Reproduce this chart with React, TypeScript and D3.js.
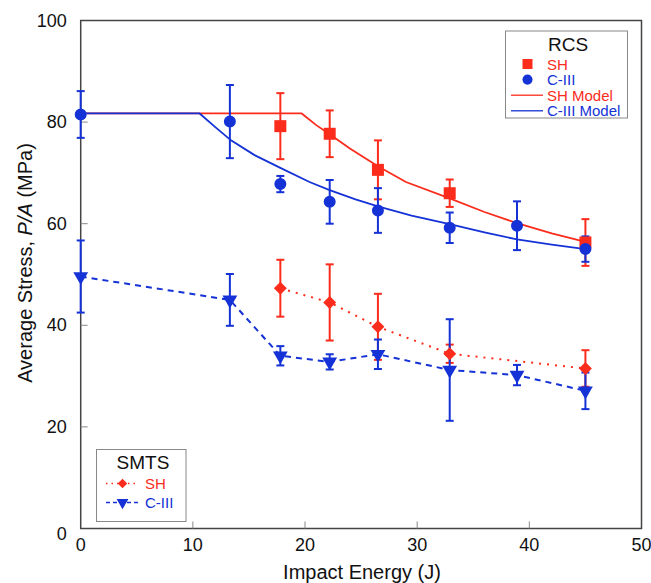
import React, { useEffect, useRef } from 'react';
import * as d3 from 'd3';

// RCS data (P/A in MPa vs impact energy in J)
const rcsShEnergy = [17.8, 22.2, 26.5, 32.9, 45.0];
const rcsShStress = [79.2, 77.7, 70.6, 66.0, 56.3];
const rcsShErr = [6.5, 4.6, 5.8, 2.7, 4.6];

const rcsC3Energy = [0, 13.3, 17.8, 22.2, 26.5, 32.9, 38.9, 45.0];
const rcsC3Stress = [81.5, 80.1, 67.8, 64.3, 62.6, 59.2, 59.6, 55.0];
const rcsC3Err = [4.6, 7.2, 1.6, 4.3, 4.4, 3.0, 4.8, 2.5];

// model curves
const shModelEnergy = [0, 19.7, 21, 22.2, 24, 26.5, 29, 32.9, 36, 38.9, 42, 45];
const shModelStress = [81.7, 81.7, 79.4, 77.6, 74.8, 71.3, 68.2, 65.0, 62.3, 60.1, 58.1, 56.4];
const c3ModelEnergy = [0, 10.6, 12, 13.4, 15.5, 17.8, 20.4, 22.2, 24.5, 26.5, 29.5, 32.9, 36, 38.9, 42, 45];
const c3ModelStress = [81.7, 81.7, 79.0, 76.4, 73.5, 71.0, 68.2, 66.6, 64.8, 63.4, 61.6, 59.9, 58.3, 56.9, 55.9, 55.0];

// SMTS data
const smtsShEnergy = [17.8, 22.2, 26.5, 32.9, 45.0];
const smtsShStress = [47.3, 44.5, 39.7, 34.4, 31.5];
const smtsShErr = [5.6, 7.5, 6.5, 1.8, 3.6];

const smtsC3Energy = [0, 13.3, 17.8, 22.2, 26.5, 32.9, 38.9, 45.0];
const smtsC3Stress = [49.6, 45.0, 34.0, 32.8, 34.3, 31.2, 30.2, 27.1];
const smtsC3Err = [7.1, 5.1, 1.9, 1.5, 2.9, 10.0, 2.0, 3.6];

const xTicks = [0, 10, 20, 30, 40, 50];
const yTicks = [0, 20, 40, 60, 80, 100];

const RED = '#fb2c1c';
const BLUE = '#1432d6';
const FONT = '"Liberation Sans", Arial, sans-serif';

const zip = (xs: number[], ys: number[], es?: number[]) =>
  xs.map((x, i) => ({ x, y: ys[i], e: es ? es[i] : 0 }));

export default function App() {
  const ref = useRef<SVGSVGElement>(null);

  useEffect(() => {
    const width = 651, height = 583;
    const margin = { top: 20.5, right: 9.5, bottom: 54.5, left: 80.7 };

    const x = d3.scaleLinear().domain([0, 50]).range([margin.left, width - margin.right]);
    const y = d3.scaleLinear().domain([0, 100]).range([height - margin.bottom, margin.top]);

    const svg = d3.select(ref.current);
    svg.selectAll('*').remove();

    // frame
    svg.append('rect')
      .attr('x', x(0)).attr('y', y(100))
      .attr('width', x(50) - x(0)).attr('height', y(0) - y(100))
      .attr('fill', 'none').attr('stroke', '#444').attr('stroke-width', 1.5);

    // inward ticks
    svg.selectAll('.xtick').data(xTicks.slice(1, -1)).enter().append('line')
      .attr('x1', d => x(d)).attr('x2', d => x(d))
      .attr('y1', y(0)).attr('y2', y(0) - 7)
      .attr('stroke', '#888').attr('stroke-width', 1);
    svg.selectAll('.ytick').data(yTicks.slice(1, -1)).enter().append('line')
      .attr('x1', x(0)).attr('x2', x(0) + 7)
      .attr('y1', d => y(d)).attr('y2', d => y(d))
      .attr('stroke', '#888').attr('stroke-width', 1);

    // tick labels
    svg.selectAll('.xlab').data(xTicks).enter().append('text')
      .attr('x', d => x(d)).attr('y', y(0) + 22)
      .attr('text-anchor', 'middle')
      .attr('font-family', FONT).attr('font-size', 18).attr('fill', '#111')
      .text(d => d);
    svg.selectAll('.ylab').data(yTicks).enter().append('text')
      .attr('x', x(0) - 14).attr('y', d => y(d) + 6 + (d === 0 ? 5 : 0))
      .attr('text-anchor', 'end')
      .attr('font-family', FONT).attr('font-size', 18).attr('fill', '#111')
      .text(d => d);

    // axis titles
    svg.append('text')
      .attr('x', 362).attr('y', 579)
      .attr('text-anchor', 'middle')
      .attr('font-family', FONT).attr('font-size', 20).attr('fill', '#111')
      .text('Impact Energy (J)');
    const yt = svg.append('text')
      .attr('transform', 'translate(32, 263) rotate(-90)')
      .attr('text-anchor', 'middle')
      .attr('font-family', FONT).attr('font-size', 20).attr('fill', '#111');
    yt.append('tspan').text('Average Stress, ');
    yt.append('tspan').attr('font-style', 'italic').text('P/A');
    yt.append('tspan').text(' (MPa)');

    const line = d3.line<{ x: number; y: number }>().x(d => x(d.x)).y(d => y(d.y));

    // SMTS connecting lines
    svg.append('path').datum(zip(smtsShEnergy, smtsShStress))
      .attr('d', line).attr('fill', 'none')
      .attr('stroke', RED).attr('stroke-width', 2).attr('stroke-dasharray', '2 6');
    svg.append('path').datum(zip(smtsC3Energy, smtsC3Stress))
      .attr('d', line).attr('fill', 'none')
      .attr('stroke', BLUE).attr('stroke-width', 2).attr('stroke-dasharray', '6 5');

    // models
    svg.append('path').datum(zip(shModelEnergy, shModelStress))
      .attr('d', line).attr('fill', 'none').attr('stroke', RED).attr('stroke-width', 1.8);
    svg.append('path').datum(zip(c3ModelEnergy, c3ModelStress))
      .attr('d', line).attr('fill', 'none').attr('stroke', BLUE).attr('stroke-width', 1.8);

    // error bars
    const errBars = (data: { x: number; y: number; e: number }[], color: string) => {
      const g = svg.append('g').attr('stroke', color).attr('stroke-width', 2);
      data.forEach(d => {
        g.append('line').attr('x1', x(d.x)).attr('x2', x(d.x))
          .attr('y1', y(d.y - d.e)).attr('y2', y(d.y + d.e));
        [d.y - d.e, d.y + d.e].forEach(v => {
          g.append('line').attr('x1', x(d.x) - 4).attr('x2', x(d.x) + 4)
            .attr('y1', y(v)).attr('y2', y(v));
        });
      });
    };
    errBars(zip(smtsShEnergy, smtsShStress, smtsShErr), RED);
    errBars(zip(smtsC3Energy, smtsC3Stress, smtsC3Err), BLUE);
    errBars(zip(rcsShEnergy, rcsShStress, rcsShErr), RED);
    errBars(zip(rcsC3Energy, rcsC3Stress, rcsC3Err), BLUE);

    // markers
    const sym = (type: d3.SymbolType, size: number) => d3.symbol().type(type).size(size)();
    const markers = (data: { x: number; y: number }[], color: string, d: string | null, rot = 0) => {
      svg.append('g').selectAll('path').data(data).enter().append('path')
        .attr('d', d)
        .attr('transform', p => `translate(${x(p.x)},${y(p.y)}) rotate(${rot})`)
        .attr('fill', color);
    };
    markers(zip(smtsShEnergy, smtsShStress), RED, sym(d3.symbolSquare, 84), 45);
    markers(zip(smtsC3Energy, smtsC3Stress), BLUE, sym(d3.symbolTriangle, 95), 180);
    markers(zip(rcsShEnergy, rcsShStress), RED, sym(d3.symbolSquare, 144));
    markers(zip(rcsC3Energy, rcsC3Stress), BLUE, sym(d3.symbolCircle, 113));

    // RCS legend
    const lg = svg.append('g');
    lg.append('rect').attr('x', 505.5).attr('y', 31).attr('width', 122).attr('height', 87)
      .attr('fill', '#fff').attr('stroke', '#888').attr('stroke-width', 1);
    lg.append('text').attr('x', 568).attr('y', 51).attr('text-anchor', 'middle')
      .attr('font-family', FONT).attr('font-size', 19).attr('fill', '#111').text('RCS');
    const rcsItems = [
      { label: 'SH', color: RED, mark: sym(d3.symbolSquare, 100) },
      { label: 'C-III', color: BLUE, mark: sym(d3.symbolCircle, 80) },
      { label: 'SH Model', color: RED, mark: null },
      { label: 'C-III Model', color: BLUE, mark: null },
    ];
    rcsItems.forEach((it, i) => {
      const cy = 64 + i * 15.6;
      if (it.mark) {
        lg.append('path').attr('d', it.mark).attr('transform', `translate(527.5,${cy})`).attr('fill', it.color);
      } else {
        lg.append('line').attr('x1', 511).attr('x2', 543).attr('y1', cy).attr('y2', cy)
          .attr('stroke', it.color).attr('stroke-width', 1.3);
      }
      lg.append('text').attr('x', 547).attr('y', cy + 5.5)
        .attr('font-family', FONT).attr('font-size', 15).attr('fill', it.color).text(it.label);
    });

    // SMTS legend
    const sg = svg.append('g');
    sg.append('rect').attr('x', 96.5).attr('y', 449.5).attr('width', 89.5).attr('height', 72)
      .attr('fill', '#fff').attr('stroke', '#888').attr('stroke-width', 1);
    sg.append('text').attr('x', 143).attr('y', 469).attr('text-anchor', 'middle')
      .attr('font-family', FONT).attr('font-size', 19).attr('fill', '#111').text('SMTS');
    const smtsItems = [
      { label: 'SH', color: RED, dash: '1.5 4', mark: sym(d3.symbolSquare, 45), rot: 45 },
      { label: 'C-III', color: BLUE, dash: '4 3', mark: sym(d3.symbolTriangle, 60), rot: 180 },
    ];
    smtsItems.forEach((it, i) => {
      const cy = 483.5 + i * 19;
      sg.append('line').attr('x1', 106).attr('x2', 139).attr('y1', cy).attr('y2', cy)
        .attr('stroke', it.color).attr('stroke-width', 1.5).attr('stroke-dasharray', it.dash);
      sg.append('path').attr('d', it.mark).attr('transform', `translate(122.5,${cy}) rotate(${it.rot})`)
        .attr('fill', it.color);
      sg.append('text').attr('x', 145).attr('y', cy + 5.5)
        .attr('font-family', FONT).attr('font-size', 15).attr('fill', it.color).text(it.label);
    });
  }, []);

  return (
    <svg
      ref={ref}
      width={651}
      height={583}
      style={{ position: 'absolute', left: 0, top: 0, background: '#fff' }}
    />
  );
}
